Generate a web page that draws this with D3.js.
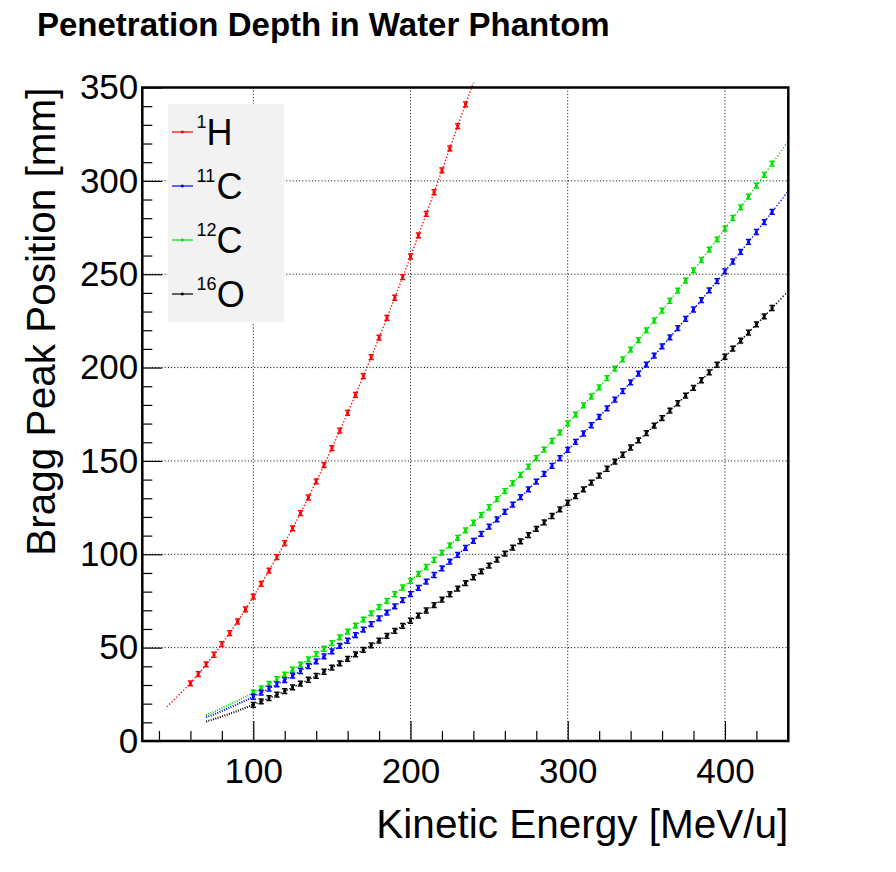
<!DOCTYPE html>
<html><head><meta charset="utf-8">
<script src="https://cdn.jsdelivr.net/npm/d3@7"></script>
<style>body{margin:0;background:#fff}svg{display:block}</style>
</head><body>
<script>
// ---- data ----
const energyH = [45,50,55,60,65,70,75,80,85,90,95,100,105,110,115,120,125,130,135,140,145,150,155,160,165,170,175,180,185,190,195,200,205,210,215,220,225,230,235,240];
const rangeH = [18.3,22.4,26.6,30.9,35.8,41.0,46.2,51.9,57.8,64.0,70.5,77.3,84.2,91.2,98.5,106.0,113.9,122.0,130.4,139.0,147.8,156.9,166.2,175.7,185.4,195.4,205.6,216.0,226.6,237.4,248.4,259.5,270.8,282.3,293.9,305.6,317.4,329.3,341.0,352.6];

const energyC = [70,75,80,85,90,95,100,105,110,115,120,125,130,135,140,145,150,155,160,165,170,175,180,185,190,195,200,205,210,215,220,225,230,235,240,245,250,255,260,265,270,275,280,285,290,295,300,305,310,315,320,325,330,335,340,345,350,355,360,365,370,375,380,385,390,395,400,405,410,415,420,425,430,435,440];
const range12C = [13.8,15.6,17.5,19.5,21.5,23.7,25.9,28.2,30.6,33.1,35.6,38.2,40.9,43.7,46.5,49.4,52.4,55.5,58.6,61.8,65.0,68.3,71.7,75.1,78.6,82.2,85.8,89.5,93.2,97.0,100.9,104.8,108.8,112.8,116.9,121.0,125.2,129.5,133.8,138.1,142.5,147.0,151.5,156.1,160.7,165.3,170.1,174.8,179.7,184.5,189.4,194.4,199.4,204.4,209.6,214.7,219.9,225.2,230.5,235.8,241.2,246.6,252.1,257.6,263.2,268.7,274.4,280.1,285.8,291.6,297.4,303.2,309.2,315.1,321.1];
const range11C = [12.7,14.3,16.0,17.9,19.7,21.7,23.7,25.9,28.1,30.3,32.6,35.0,37.5,40.1,42.6,45.3,48.0,50.9,53.7,56.7,59.6,62.6,65.7,68.8,72.1,75.4,78.7,82.0,85.4,88.9,92.5,96.1,99.7,103.4,107.2,110.9,114.8,118.7,122.7,126.6,130.6,134.8,138.9,143.1,147.3,151.5,155.9,160.2,164.7,169.1,173.6,178.2,182.8,187.4,192.1,196.8,201.6,206.4,211.3,216.2,221.1,226.1,231.1,236.1,241.3,246.3,251.5,256.8,262.0,267.3,272.6,277.9,283.4,288.8,294.3];
const range16O = [10.4,11.7,13.1,14.6,16.1,17.8,19.4,21.2,23.0,24.8,26.7,28.7,30.7,32.8,34.9,37.1,39.3,41.6,44.0,46.4,48.8,51.2,53.8,56.3,59.0,61.7,64.4,67.1,69.9,72.8,75.7,78.6,81.6,84.6,87.7,90.8,93.9,97.1,100.4,103.6,106.9,110.3,113.6,117.1,120.5,124.0,127.6,131.1,134.8,138.4,142.1,145.8,149.6,153.3,157.2,161.0,164.9,168.9,172.9,176.9,180.9,185.0,189.1,193.2,197.4,201.5,205.8,210.1,214.4,218.7,223.1,227.4,231.9,236.3,240.8];

const markedH = [60, 235];   // energies with error-bar markers
const markedC = [100, 430];

const xTicks = [100, 200, 300, 400];
const xMinorTicks = [40,60,80,120,140,160,180,220,240,260,280,320,340,360,380,420,440];
const yTicks = [0, 50, 100, 150, 200, 250, 300, 350];
const yMinorTicks = [10,20,30,40,60,70,80,90,110,120,130,140,160,170,180,190,210,220,230,240,260,270,280,290,310,320,330,340];

const legendEntries = [
  {sup: "1",  el: "H", color: "#ff0000"},
  {sup: "11", el: "C", color: "#0000ff"},
  {sup: "12", el: "C", color: "#00e000"},
  {sup: "16", el: "O", color: "#000000"}
];

const titleText = "Penetration Depth in Water Phantom";
const xTitle = "Kinetic Energy [MeV/u]";
const yTitle = "Bragg Peak Position [mm]";

// ---- layout ----
const W = 896, H = 872;
const FONT = "'Liberation Sans', Arial, Helvetica, sans-serif";
const frame = {l: 142.3, r: 788.3, t: 87.5, b: 741};

const x = d3.scaleLinear().domain([29.4, 440.3]).range([frame.l, frame.r]);
const y = d3.scaleLinear().domain([0, 350]).range([frame.b, frame.t]);

const svg = d3.select("body").append("svg").attr("width", W).attr("height", H)
  .style("font-family", FONT);
svg.append("rect").attr("width", W).attr("height", H).attr("fill", "#fff");

// grid
const grid = svg.append("g").attr("stroke", "#000").attr("stroke-width", 1).attr("stroke-dasharray", "1,2.2");
grid.selectAll("line.vx").data(xTicks).join("line")
  .attr("x1", d => x(d)).attr("x2", d => x(d)).attr("y1", frame.t).attr("y2", frame.b);
grid.selectAll("line.hy").data(yTicks.filter(d => d > 0 && d < 350)).join("line")
  .attr("y1", d => y(d)).attr("y2", d => y(d)).attr("x1", frame.l).attr("x2", frame.r);

// series
const series = [
  {E: energyC, R: range12C, color: "#00e000", mark: markedC, fine: true},
  {E: energyC, R: range11C, color: "#0000ff", mark: markedC, fine: true},
  {E: energyC, R: range16O, color: "#000000", mark: markedC, fine: true},
  {E: energyH, R: rangeH,   color: "#ff0000", mark: markedH, fine: false}
];
const line = d3.line().x(d => x(d[0])).y(d => y(d[1]));

series.forEach(s => {
  const pts = s.E.map((e, i) => [e, s.R[i]]);
  const g = svg.append("g");
  const lo = pts.filter(p => p[0] <= s.mark[0]);
  const hi = pts.filter(p => p[0] >= s.mark[0]);
  g.append("path").attr("d", line(lo)).attr("fill", "none").attr("stroke", s.color)
    .attr("stroke-width", s.fine ? 2 : 1.4).attr("stroke-dasharray", s.fine ? "1,1.4" : "1.3,2");
  g.append("path").attr("d", line(hi)).attr("fill", "none").attr("stroke", s.color)
    .attr("stroke-width", 1.4).attr("stroke-dasharray", "1.3,2");
  const marked = pts.filter(p => p[0] >= s.mark[0] && p[0] <= s.mark[1]);
  g.selectAll("path.m").data(marked).join("path")
    .attr("d", p => {
      const cx = x(p[0]), cy = y(p[1]);
      return `M${cx-2.6},${cy-2.4}h5.2M${cx-2.6},${cy+2.4}h5.2M${cx},${cy-2.4}v4.8`;
    })
    .attr("stroke", s.color).attr("stroke-width", 1.5).attr("fill", "none");
  g.selectAll("rect.m").data(marked).join("rect")
    .attr("x", p => x(p[0]) - 1.5).attr("y", p => y(p[1]) - 1.5)
    .attr("width", 3).attr("height", 3).attr("fill", s.color);
});

// legend
const leg = svg.append("g");
leg.append("rect").attr("x", 168).attr("y", 104).attr("width", 116).attr("height", 218).attr("fill", "#f2f2f2");
const mainX = {H: 206.6, C: 216.5, O: 216.8};
legendEntries.forEach((d, i) => {
  const base = 144.5 + i * 54;
  const cy = base - 12.5;
  leg.append("line").attr("x1", 172).attr("x2", 193).attr("y1", cy).attr("y2", cy)
    .attr("stroke", d.color).attr("stroke-width", 1.2);
  leg.append("rect").attr("x", 181).attr("y", cy - 1.3).attr("width", 2.6).attr("height", 2.6).attr("fill", d.color);
  leg.append("text").attr("x", 196.5).attr("y", base - 16.5).attr("font-size", 18).text(d.sup);
  leg.append("text").attr("x", mainX[d.el]).attr("y", base).attr("font-size", 36).text(d.el);
});

// axes
const ax = d3.axisBottom(x).tickValues(xTicks).tickSizeInner(-20).tickSizeOuter(0).tickPadding(17).tickFormat(d3.format("d"));
const axMinor = d3.axisBottom(x).tickValues(xMinorTicks).tickSizeInner(-10).tickSizeOuter(0).tickFormat("");
const ay = d3.axisLeft(y).tickValues(yTicks).tickSizeInner(-20).tickSizeOuter(0).tickPadding(4).tickFormat(d3.format("d"));
const ayMinor = d3.axisLeft(y).tickValues(yMinorTicks).tickSizeInner(-10).tickSizeOuter(0).tickFormat("");

function styleAxis(g) {
  g.select(".domain").remove();
  g.selectAll(".tick line").attr("stroke", "#000").attr("stroke-width", 1.2);
  g.selectAll(".tick text").attr("fill", "#000").attr("font-size", 35).attr("font-family", FONT);
}
svg.append("g").attr("transform", `translate(0,${frame.b})`).call(axMinor).call(styleAxis);
svg.append("g").attr("transform", `translate(0,${frame.b})`).call(ax).call(styleAxis);
svg.append("g").attr("transform", `translate(${frame.l},0)`).call(ayMinor).call(styleAxis);
svg.append("g").attr("transform", `translate(${frame.l},0)`).call(ay).call(styleAxis);

// frame
svg.append("rect").attr("x", frame.l).attr("y", frame.t).attr("width", frame.r - frame.l).attr("height", frame.b - frame.t)
  .attr("fill", "none").attr("stroke", "#000").attr("stroke-width", 2.5);

// titles
svg.append("text").attr("x", 37).attr("y", 36).attr("font-size", 33).attr("font-weight", "bold").text(titleText);
svg.append("text").attr("x", frame.r).attr("y", 838).attr("text-anchor", "end").attr("font-size", 40.5).text(xTitle);
svg.append("text").attr("transform", `translate(55,${frame.t}) rotate(-90)`).attr("text-anchor", "end")
  .attr("font-size", 40.5).text(yTitle);
</script>
</body></html>
